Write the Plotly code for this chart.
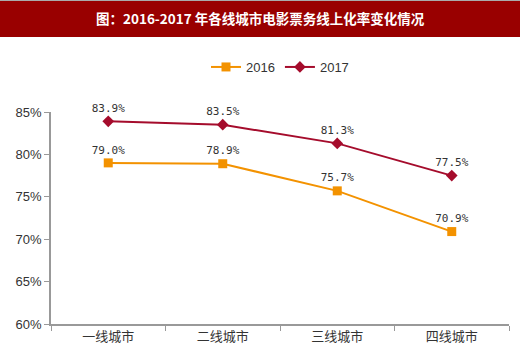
import plotly.graph_objects as go

categories = ["一线城市", "二线城市", "三线城市", "四线城市"]
values_2016 = [79.0, 78.9, 75.7, 70.9]
values_2017 = [83.9, 83.5, 81.3, 77.5]
tick_vals = [60, 65, 70, 75, 80, 85]
tick_text = ["60%", "65%", "70%", "75%", "80%", "85%"]
title = "图：2016-2017 年各线城市电影票务线上化率变化情况"

W, H = 520, 356
L, R, T, B = 51, 11, 112, 32
ph = H - T - B
pw = W - L - R

fig = go.Figure()
fig.add_trace(go.Scatter(
    x=categories, y=values_2016, name="2016", mode="lines+markers+text",
    line=dict(color="#F39200", width=2),
    marker=dict(symbol="square", size=9, color="#F39200"),
    text=[f"{v:.1f}%" for v in values_2016], textposition="top center",
    textfont=dict(size=11, color="#333333", family="DejaVu Sans Mono"),
    cliponaxis=False,
))
fig.add_trace(go.Scatter(
    x=categories, y=values_2017, name="2017", mode="lines+markers+text",
    line=dict(color="#A50C2C", width=2),
    marker=dict(symbol="diamond", size=9, color="#A50C2C"),
    text=[f"{v:.1f}%" for v in values_2017], textposition="top center",
    textfont=dict(size=11, color="#333333", family="DejaVu Sans Mono"),
    cliponaxis=False,
))

fig.add_shape(type="rect", xref="paper", yref="paper",
              x0=-L / pw, x1=1 + R / pw,
              y0=1 + (T - 37) / ph, y1=1 + (T - 1) / ph,
              fillcolor="#990000", line=dict(width=0), layer="below")
fig.add_shape(type="line", xref="paper", yref="paper",
              x0=-L / pw, x1=1 + R / pw,
              y0=1 + (T - 0.5) / ph, y1=1 + (T - 0.5) / ph,
              line=dict(color="#AAAAAA", width=1), layer="below")
fig.add_annotation(text="<b>" + title + "</b>", xref="paper", yref="paper",
                   x=(260 - L) / pw, y=1 + (T - 18) / ph, showarrow=False,
                   xanchor="center", yanchor="middle",
                   font=dict(size=13.5, color="white", family="Noto Sans CJK SC"))

fig.update_layout(
    width=W, height=H, margin=dict(l=L, r=R, t=T, b=B),
    paper_bgcolor="white", plot_bgcolor="white",
    font=dict(family="Noto Sans CJK SC", color="#333333", size=12),
    showlegend=True,
    legend=dict(orientation="h", x=0.5, xanchor="center",
                y=1 + (T - 67) / ph, yanchor="middle",
                font=dict(size=13, family="Liberation Sans", color="#333333")),
    xaxis=dict(showline=True, linecolor="#999999", linewidth=1.5,
               range=[-0.5, 3.5],
               ticks="outside", ticklen=5, tickcolor="#999999",
               showgrid=False, tickson="boundaries",
               tickfont=dict(size=13, family="Noto Sans CJK SC", color="#333333")),
    yaxis=dict(range=[60, 85], tickvals=tick_vals, ticktext=tick_text,
               showline=True, linecolor="#999999", linewidth=1.5,
               ticks="outside", ticklen=5, tickcolor="#999999",
               showgrid=False, zeroline=False,
               tickfont=dict(size=13, family="Liberation Sans", color="#333333")),
)
fig.write_html("out.html", config={"displayModeBar": False},
               post_script="document.body.style.margin='0';")
